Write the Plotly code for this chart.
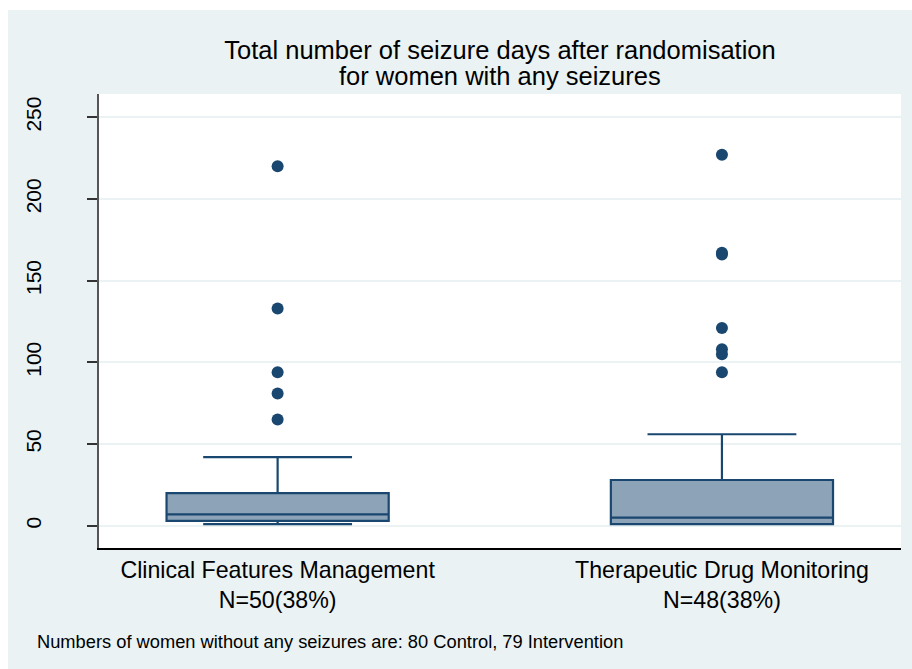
import plotly.graph_objects as go

# ---- data ----
groups = ["Clinical Features Management", "Therapeutic Drug Monitoring"]
n_labels = ["N=50(38%)", "N=48(38%)"]
q1 = [3, 1]
median = [7, 5]
q3 = [20, 28]
lower_whisker = [1, 1]
upper_whisker = [42, 56]
outliers_cfm = [220, 133, 94, 81, 65]
outliers_tdm = [227, 167, 166, 121, 108, 105, 94]
y_ticks = [0, 50, 100, 150, 200, 250]

title_line1 = "Total number of seizure days after randomisation"
title_line2 = "for women with any seizures"
note_text = "Numbers of women without any seizures are: 80 Control, 79 Intervention"

# ---- styles ----
NAVY = "#1a476f"
BOXFILL = "#8da3b7"
BG = "#eaf2f3"
FONT = "Liberation Sans, Arial, sans-serif"

W, H = 912, 669
ML, MR, MT, MB = 99, 11, 94, 121
PW, PH = W - ML - MR, H - MT - MB

xpos = list(range(len(groups)))

fig = go.Figure()
fig.add_trace(go.Box(
    x=xpos, q1=q1, median=median, q3=q3,
    lowerfence=lower_whisker, upperfence=upper_whisker,
    width=0.5, whiskerwidth=0.67,
    fillcolor=BOXFILL, line=dict(color=NAVY, width=2.2),
    boxpoints=False, showlegend=False, hoverinfo="skip",
))
out_x = [xpos[0]] * len(outliers_cfm) + [xpos[1]] * len(outliers_tdm)
out_y = outliers_cfm + outliers_tdm
fig.add_trace(go.Scatter(
    x=out_x, y=out_y, mode="markers",
    marker=dict(color=NAVY, size=12, line=dict(width=0)),
    showlegend=False, hoverinfo="skip",
))

def px_to_paper_x(px):
    return (px - ML) / PW

def px_to_paper_y(py):
    return (H - MB - py) / PH

shapes = [
    # white strips outside the light bluish-gray graph region
    dict(type="rect", xref="paper", yref="paper",
         x0=px_to_paper_x(0), x1=px_to_paper_x(W), y0=px_to_paper_y(0), y1=px_to_paper_y(10),
         fillcolor="white", line=dict(width=0), layer="above"),
    dict(type="rect", xref="paper", yref="paper",
         x0=px_to_paper_x(0), x1=px_to_paper_x(8), y0=px_to_paper_y(0), y1=px_to_paper_y(H),
         fillcolor="white", line=dict(width=0), layer="above"),
]

fig.update_layout(
    width=W, height=H,
    margin=dict(l=ML, r=MR, t=MT, b=MB, pad=0),
    paper_bgcolor=BG, plot_bgcolor="white",
    font=dict(family=FONT, color="black"),
    title=dict(text=title_line1, x=0.5, xref="paper", xanchor="center",
               y=1 - 49.7 / H, yref="container", yanchor="middle",
               font=dict(size=25.5, color="black", family=FONT)),
    shapes=shapes,
    annotations=[
        dict(text=title_line2, xref="paper", yref="paper",
             x=0.5, y=px_to_paper_y(76.3), xanchor="center", yanchor="middle",
             showarrow=False, font=dict(size=25.5, color="black", family=FONT)),
        dict(text=note_text, xref="paper", yref="paper",
             x=px_to_paper_x(35), y=px_to_paper_y(641),
             xanchor="left", yanchor="middle", showarrow=False,
             font=dict(size=18.3, color="black", family=FONT)),
    ],
    xaxis=dict(range=[-0.402, 1.403], tickmode="array", tickvals=xpos,
               ticktext=[f"{g}<br>{n}" for g, n in zip(groups, n_labels)],
               showgrid=False, zeroline=False, showline=True,
               linecolor="black", linewidth=1.5, ticks="",
               tickfont=dict(size=23.2, color="black", family=FONT),
               ticklabelstandoff=0),
    yaxis=dict(range=[-13.6, 264.2], tickmode="array", tickvals=y_ticks,
               showgrid=True, gridcolor=BG, gridwidth=2, zeroline=False,
               showline=True, linecolor="#555555", linewidth=2,
               ticks="outside", ticklen=10, tickwidth=1.5, tickcolor="#333333",
               tickangle=-90, tickfont=dict(size=21, color="black", family=FONT),
               ticklabelstandoff=38),
)

fig.write_html("out.html")
